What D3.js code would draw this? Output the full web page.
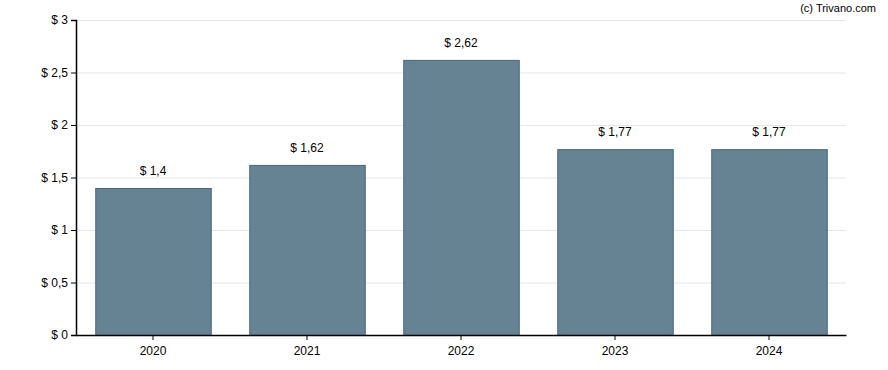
<!DOCTYPE html>
<html>
<head>
<meta charset="utf-8">
<script src="https://cdn.jsdelivr.net/npm/d3@7"></script>
<style>
  body { margin: 0; background: #fff; }
  text { font-family: "Liberation Sans", Arial, sans-serif; }
</style>
</head>
<body>
<main></main>
<script>
// chart data
const years = ["2020", "2021", "2022", "2023", "2024"];
const values = [1.4, 1.62, 2.62, 1.77, 1.77];
const yTicks = [0, 0.5, 1, 1.5, 2, 2.5, 3];

const width = 888;
const height = 370;
const margin = {top: 20, right: 42, bottom: 35, left: 76};

const fmt = v => "$ " + String(v).replace(".", ",");

const svg = d3.select("main")
    .append("svg")
    .attr("width", width)
    .attr("height", height);

const x = d3.scaleBand()
    .domain(years)
    .range([margin.left, width - margin.right])
    .paddingInner(0.25)
    .paddingOuter(0.125);

const y = d3.scaleLinear()
    .domain([0, 3])
    .range([height - margin.bottom, margin.top]);

// gridlines
svg.append("g")
  .selectAll("line")
  .data(yTicks.filter(t => t > 0))
  .join("line")
    .attr("x1", margin.left)
    .attr("x2", width - margin.right)
    .attr("y1", d => y(d) + 0.5)
    .attr("y2", d => y(d) + 0.5)
    .attr("stroke", "#e6e6e6")
    .attr("stroke-width", 1);

// bars
svg.append("g")
  .selectAll("rect")
  .data(values)
  .join("rect")
    .attr("x", (d, i) => x(years[i]) + 0.5)
    .attr("y", d => y(d) + 0.5)
    .attr("width", x.bandwidth())
    .attr("height", d => y(0) - y(d))
    .attr("fill", "#668394")
    .attr("stroke", "#4b6578")
    .attr("stroke-width", 1);

// value labels
svg.append("g")
  .selectAll("text")
  .data(values)
  .join("text")
    .attr("x", (d, i) => x(years[i]) + x.bandwidth() / 2)
    .attr("y", d => y(d) - 13)
    .attr("text-anchor", "middle")
    .attr("font-size", 12)
    .attr("fill", "#000")
    .text(d => fmt(d));

// y axis
const yAxis = svg.append("g")
    .attr("transform", `translate(${margin.left},0)`)
    .call(d3.axisLeft(y).tickValues(yTicks).tickSize(5).tickPadding(3).tickFormat(fmt));
yAxis.select(".domain").attr("stroke", "#000").attr("stroke-width", 1.5);
yAxis.selectAll("text").attr("font-size", 12).attr("fill", "#000")
    .attr("font-family", "Liberation Sans, Arial, sans-serif");

// x axis
const xAxis = svg.append("g")
    .attr("transform", `translate(0,${height - margin.bottom})`)
    .call(d3.axisBottom(x).tickSize(5).tickSizeOuter(0).tickPadding(6));
xAxis.select(".domain").attr("stroke", "#000").attr("stroke-width", 1.5);
xAxis.selectAll("text").attr("font-size", 12).attr("fill", "#000")
    .attr("font-family", "Liberation Sans, Arial, sans-serif");

// copyright
svg.append("text")
    .attr("x", 876)
    .attr("y", 12)
    .attr("text-anchor", "end")
    .attr("font-size", 11)
    .attr("fill", "#000")
    .text("(c) Trivano.com");
</script>
</body>
</html>
